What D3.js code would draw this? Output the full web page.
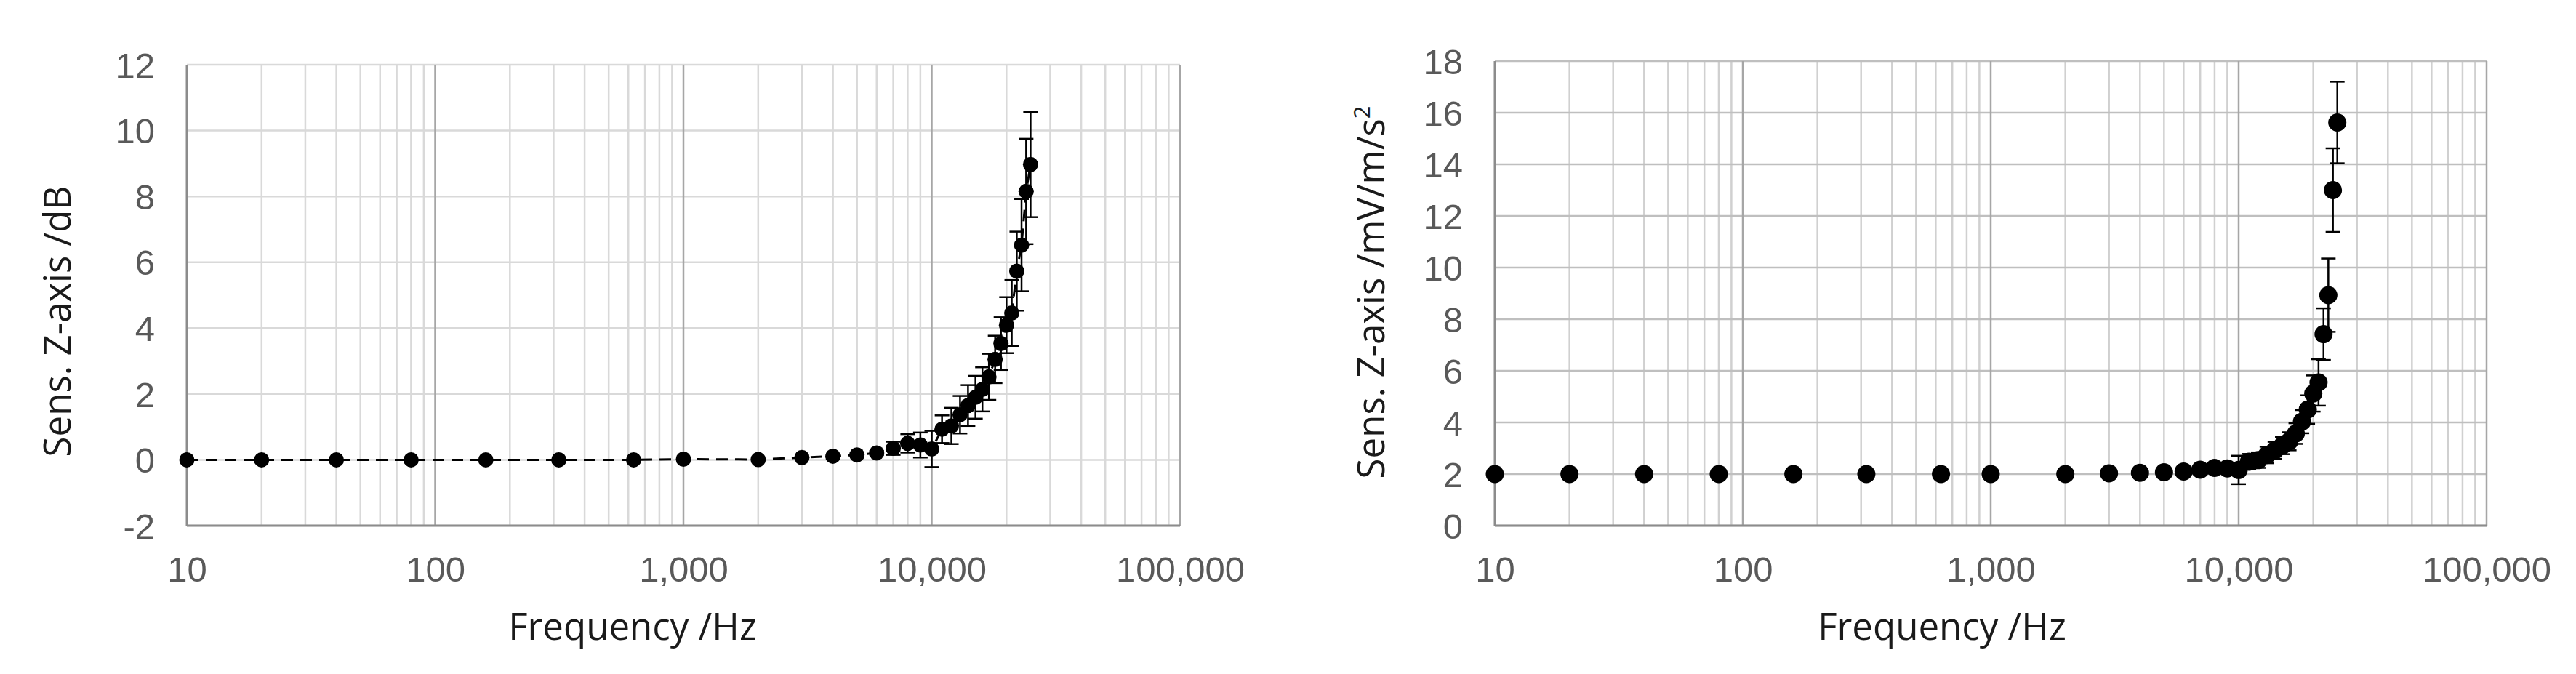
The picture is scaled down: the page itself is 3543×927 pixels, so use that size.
<!DOCTYPE html>
<html>
<head>
<meta charset="utf-8">
<script src="https://cdn.jsdelivr.net/npm/d3@7"></script>
<style>
  html, body { margin: 0; padding: 0; background: #ffffff; }
  svg { display: block; }
</style>
</head>
<body>
<script>
// ---------------- data ----------------
const frequencies = [10, 20, 40, 80, 160, 315, 630, 1000, 2000, 3000, 4000, 5000, 6000, 7000, 8000, 9000,
  10000, 11000, 12000, 13000, 14000, 15000, 16000, 17000, 18000, 19000, 20000, 21000, 22000, 23000, 24000, 25000];

const sensDb = [0, 0, 0, 0, 0, 0, 0, 0.02, 0.01, 0.07, 0.11, 0.15, 0.21, 0.35, 0.50, 0.45,
  0.33, 0.93, 1.03, 1.37, 1.65, 1.90, 2.14, 2.52, 3.05, 3.53, 4.09, 4.46, 5.73, 6.52, 8.15, 8.97];
const sensDbErr = [0, 0, 0, 0, 0, 0, 0, 0, 0, 0.02, 0.03, 0.04, 0.06, 0.2, 0.28, 0.38,
  0.55, 0.42, 0.55, 0.57, 0.62, 0.65, 0.67, 0.7, 0.72, 0.8, 0.85, 1.0, 1.2, 1.4, 1.6, 1.6];

const sensMv = [2.0, 2.0, 2.0, 2.0, 2.0, 2.0, 2.0, 2.0, 2.0, 2.03, 2.05, 2.07, 2.1, 2.17, 2.24, 2.22,
  2.16, 2.48, 2.54, 2.74, 2.92, 3.1, 3.27, 3.57, 4.03, 4.5, 5.12, 5.55, 7.42, 8.93, 13.0, 15.62];
const sensMvErr = [0, 0, 0, 0, 0, 0, 0, 0, 0, 0, 0, 0.02, 0.03, 0.08, 0.1, 0.12,
  0.55, 0.3, 0.3, 0.32, 0.33, 0.33, 0.35, 0.4, 0.45, 0.55, 0.7, 0.9, 1.0, 1.42, 1.62, 1.58];

const xTicks = [10, 100, 1000, 10000, 100000];
const yTicksDb = [-2, 0, 2, 4, 6, 8, 10, 12];
const yTicksMv = [0, 2, 4, 6, 8, 10, 12, 14, 16, 18];

const xTitle = "Frequency /Hz";
const yTitleDb = "Sens. Z-axis /dB";
const yTitleMv = "Sens. Z-axis /mV/m/s";

// ---------------- drawing ----------------
const W = 3543, H = 927;
const svg = d3.select("body").append("svg").attr("width", W).attr("height", H);
svg.append("rect").attr("width", W).attr("height", H).attr("fill", "#ffffff");

const TICK_FONT = "'Liberation Sans', Arial, sans-serif";
const TITLE_FONT = "'Open Sans', 'Noto Sans', sans-serif";

function drawChart(cfg) {
  const x = d3.scaleLog().domain([10, 100000]).range([cfg.left, cfg.right]);
  const y = d3.scaleLinear().domain(cfg.yDomain).range([cfg.bottom, cfg.top]);
  const g = svg.append("g");

  // minor vertical gridlines
  const minor = [];
  for (let e = 1; e < 5; e++) for (let m = 2; m <= 9; m++) minor.push(m * Math.pow(10, e));
  g.append("g").selectAll("line").data(minor).join("line")
    .attr("x1", d => x(d)).attr("x2", d => x(d))
    .attr("y1", cfg.top).attr("y2", cfg.bottom)
    .attr("stroke", cfg.minorColor).attr("stroke-width", 2.5);

  // horizontal gridlines
  g.append("g").selectAll("line").data(cfg.yTicks).join("line")
    .attr("x1", cfg.left).attr("x2", cfg.right)
    .attr("y1", d => y(d)).attr("y2", d => y(d))
    .attr("stroke", cfg.hColor).attr("stroke-width", 2.5);

  // major vertical gridlines
  g.append("g").selectAll("line").data(xTicks.slice(1)).join("line")
    .attr("x1", d => x(d)).attr("x2", d => x(d))
    .attr("y1", cfg.top).attr("y2", cfg.bottom)
    .attr("stroke", "#a6a6a6").attr("stroke-width", 2.5);

  // axis lines
  g.append("line").attr("x1", cfg.left).attr("x2", cfg.left)
    .attr("y1", cfg.top).attr("y2", cfg.bottom)
    .attr("stroke", "#8c8c8c").attr("stroke-width", 3);
  g.append("line").attr("x1", cfg.left).attr("x2", cfg.right)
    .attr("y1", cfg.bottom).attr("y2", cfg.bottom)
    .attr("stroke", "#8c8c8c").attr("stroke-width", 3);

  // x axis labels
  const xa = g.append("g").attr("transform", `translate(0,${cfg.bottom})`)
    .call(d3.axisBottom(x).tickValues(xTicks).tickFormat(d3.format(",")).tickSize(0));
  xa.select(".domain").remove();
  xa.selectAll("text").attr("y", 77).attr("dy", 0)
    .attr("font-family", TICK_FONT).attr("font-size", 49).attr("fill", "#595959");

  // y axis labels (plain hyphen for negatives)
  const ya = g.append("g").attr("transform", `translate(${cfg.left},0)`)
    .call(d3.axisLeft(y).tickValues(cfg.yTicks).tickFormat(d => String(d)).tickSize(0));
  ya.select(".domain").remove();
  ya.selectAll("text").attr("x", -44).attr("dy", "0.35em")
    .attr("font-family", TICK_FONT).attr("font-size", 49).attr("fill", "#595959");

  const pts = frequencies.map((f, i) => ({ f, v: cfg.values[i], e: cfg.errors[i] }));

  // connecting line
  if (cfg.dashed) {
    g.append("path").datum(pts)
      .attr("d", d3.line().x(d => x(d.f)).y(d => y(d.v)))
      .attr("fill", "none").attr("stroke", "#000").attr("stroke-width", 3)
      .attr("stroke-dasharray", "16,10");
  }

  // error bars
  const eb = g.append("g").attr("stroke", "#000").attr("stroke-width", 2.5);
  const withErr = pts.filter(d => d.e > 0);
  eb.selectAll(".v").data(withErr).join("line")
    .attr("x1", d => x(d.f)).attr("x2", d => x(d.f))
    .attr("y1", d => y(d.v - d.e)).attr("y2", d => y(d.v + d.e));
  eb.selectAll(".ct").data(withErr).join("line")
    .attr("x1", d => x(d.f) - 10).attr("x2", d => x(d.f) + 10)
    .attr("y1", d => y(d.v + d.e)).attr("y2", d => y(d.v + d.e));
  eb.selectAll(".cb").data(withErr).join("line")
    .attr("x1", d => x(d.f) - 10).attr("x2", d => x(d.f) + 10)
    .attr("y1", d => y(d.v - d.e)).attr("y2", d => y(d.v - d.e));

  // markers
  g.append("g").selectAll("circle").data(pts).join("circle")
    .attr("cx", d => x(d.f)).attr("cy", d => y(d.v)).attr("r", cfg.r)
    .attr("fill", "#000");

  // x title
  g.append("text").attr("x", cfg.xTitleX).attr("y", 880)
    .attr("text-anchor", "middle")
    .attr("font-family", TITLE_FONT).attr("font-size", 51).attr("fill", "#1a1a1a")
    .text(xTitle);

  // y title
  const yt = g.append("text")
    .attr("transform", `translate(${cfg.yTitleX},${cfg.yTitleY}) rotate(-90)`)
    .attr("text-anchor", "middle")
    .attr("font-family", TITLE_FONT).attr("font-size", 51).attr("fill", "#1a1a1a");
  yt.append("tspan").text(cfg.yTitle);
  if (cfg.sup) {
    yt.append("tspan").attr("font-size", 31).attr("dy", -20).text(cfg.sup);
  }
}

drawChart({
  left: 257, right: 1623, top: 89, bottom: 723,
  yDomain: [-2, 12], yTicks: yTicksDb,
  values: sensDb, errors: sensDbErr,
  dashed: true, r: 10.5,
  minorColor: "#d9d9d9", hColor: "#d9d9d9",
  xTitleX: 870, yTitleX: 97, yTitleY: 442,
  yTitle: yTitleDb, sup: null
});

drawChart({
  left: 2056, right: 3420, top: 84, bottom: 723,
  yDomain: [0, 18], yTicks: yTicksMv,
  values: sensMv, errors: sensMvErr,
  dashed: false, r: 12.5,
  minorColor: "#d0d0d0", hColor: "#bfbfbf",
  xTitleX: 2671, yTitleX: 1904, yTitleY: 402,
  yTitle: yTitleMv, sup: "2"
});
</script>
</body>
</html>
